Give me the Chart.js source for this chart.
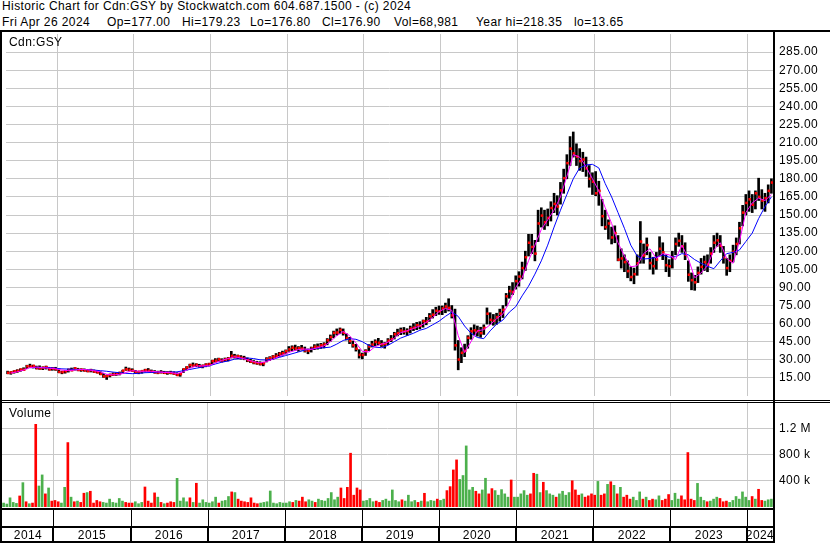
<!DOCTYPE html>
<html>
<head>
<meta charset="utf-8">
<script src="https://cdn.jsdelivr.net/npm/chart.js@4.4.1/dist/chart.umd.min.js"></script>
<style>
  body { margin: 0; background: #fff; }
  #wrap { position: relative; width: 830px; height: 543px; overflow: hidden; background: #fff;
          font-family: "Liberation Sans", Arial, sans-serif; }
  .txt { position: absolute; font-size: 12px; line-height: 12px; letter-spacing: 0.4px; color: #000; white-space: pre; }
  .ln { position: absolute; background: #000; }
  canvas { position: absolute; }
</style>
</head>
<body>
<div id="wrap">
  <div class="txt" style="left:2px;top:0px">Historic Chart for Cdn:GSY by Stockwatch.com 604.687.1500 - (c) 2024</div>
  <div class="txt" style="left:2px;top:16px">Fri Apr 26 2024</div>
  <div class="txt" style="left:107px;top:16px">Op=177.00</div>
  <div class="txt" style="left:182px;top:16px">Hi=179.23</div>
  <div class="txt" style="left:250px;top:16px">Lo=176.80</div>
  <div class="txt" style="left:322px;top:16px">Cl=176.90</div>
  <div class="txt" style="left:394px;top:16px">Vol=68,981</div>
  <div class="txt" style="left:476px;top:16px">Year hi=218.35</div>
  <div class="txt" style="left:574px;top:16px">lo=13.65</div>

  <canvas id="priceChart" width="828" height="370" style="left:2px;top:30px"></canvas>
  <canvas id="volChart" width="828" height="104" style="left:2px;top:403px"></canvas>

  <div class="txt" style="left:9px;top:36px">Cdn:GSY</div>
  <div class="txt" style="left:9px;top:407px">Volume</div>

  <div class="ln" style="left:0;top:30px;width:830px;height:2px"></div>
  <div class="ln" style="left:0;top:30px;width:2px;height:513px"></div>
  <div class="ln" style="left:773px;top:30px;width:2px;height:513px"></div>
  <div class="ln" style="left:0;top:400px;width:830px;height:1px"></div>
  <div class="ln" style="left:0;top:402px;width:830px;height:1px"></div>
  <div class="ln" style="left:0;top:508px;width:775px;height:2px"></div>
  <div class="ln" style="left:0;top:526px;width:775px;height:2px"></div>
  <div class="ln" style="left:0;top:541px;width:775px;height:2px"></div>
  <div id="dates"></div>
</div>
<script>
// semi-monthly bars, first half of May 2014 .. second half of Apr 2024
const hi = [
  20.6,20.2,21,21.8,22.6,23.4,25.5,26.4,25.6,24.8,25,24.2,24.8,23.8,23.6,23.8,
  21.8,20.6,21.2,22.4,23.2,23.6,23,22.6,22.5,22.1,22.2,21.6,21,20.2,18.6,17.4,18.2,19.2,19.1,19.8,21.4,24,23.2,22.6,
  21.2,20.6,21.1,22.2,22.8,21.6,21.1,20.6,21.1,20.5,20.2,20.6,20.1,19.3,18.8,22.6,24.4,26.4,27.4,26.8,26.3,25.7,26.8,27.2,
  29.5,31,31.4,30.9,31.5,32,37,34.6,34,33.5,33,31.6,30.4,29.4,28.8,28.4,28,31.8,32.6,33.6,35.2,36.2,37.2,38.2,
  41,41.6,42.2,41,42,40.6,39,40.6,42.6,43.2,43.6,44.2,47.6,50.6,53.8,55.6,56.4,55.6,51.6,48.6,45.6,42.8,38.4,35.6,
  38.4,42.6,45.4,46.6,47.8,46,44.4,47.6,50.2,52.8,55.4,56.4,56.8,55.8,58,60,61,61.6,63,65.2,68.4,71.6,73.6,74.6,
  74.6,77,80.6,75,72,46,40,43,50,56.6,59,58,57,59,73,69,67.6,68.6,72,75,85,91,94,99.6,
  103,111,120,134,134,129,154,156,154,155,161,168,166,177,188,200,215,218.8,209,205,202,198,191,185,
  186,178,163,154,146,140,141,133,122,117,112,107,106,117,144.6,126,131,119,115,119,132,127,117,113,
  120,131,135,133,127,112,102,100,107,114,116,117,123,133,135,133,124,114,117,125,131,144,158,167,
  170,167,170,180.5,171,168,175,180
];
const lo = [
  18.4,18,18.9,19.5,20.4,21,22.6,23.8,23.2,22.4,22,21.8,22.3,21.4,21.3,21.2,
  19.3,18.4,18.9,19.8,20.8,21.4,20.9,20.4,20.5,20,19.9,19.4,19,17.6,15.4,13.7,15.8,16.9,17,17.4,18.8,21.2,20.9,20.4,
  18.9,18.4,18.9,19.9,20.3,19.4,18.9,18.4,19,18.5,17.9,18.4,17.8,16.9,16.3,19.4,21.6,23.6,24.6,24.3,23.8,23.3,24.2,24.8,
  26.2,28,28.6,28.1,28.5,29,31.5,31.4,31,30.5,30,28.4,27.6,26.6,26.2,25.6,25,28.2,29.4,30.4,31.8,32.8,33.8,34.8,
  37,37.4,37.8,37,38,36.4,35,36.4,38.4,38.8,39.4,39.8,42.4,45.4,48.2,50.4,51.6,50.4,46.4,43.4,40.4,37.2,31.4,30.8,
  33.6,37.6,40.6,41.6,42.4,41,39.6,42.6,45,47.2,49.8,50.8,51.2,50.2,52.2,54.2,55,55.6,57,59,61.8,64.6,66.6,67.6,
  67.4,69,70.4,64.6,38,21.7,27.6,32.6,39.6,47,50.6,49.6,48.6,51,59.6,59.4,58.6,59.4,62,65,74.6,81,84,88.6,
  91,97,104,116,118,112,128,140,138,141,145,152,150,159,168,180,191,198,191,187,186,182,173,167,
  166,158,141,138,130,126,127,112,106,103,98,95.4,93,100,110,110,117,105,101,105,116,113,103,99,
  106,117,124,119,113,95,88,87.6,94,101,104,103,110,119,124,119,110,100,103,111,117,126,141,150,
  153,152,155,162,155,153,160,168
];
const cl = [
  19.2,19.6,20.4,20.8,21.9,21.8,24.6,24.4,24.9,23.1,22.8,23.4,23.9,22.1,22.8,22.2,
  19.9,19.8,20.5,21.6,21.4,22.9,21.6,21.8,21.2,20.7,21.4,20.2,19.6,18.3,16.3,16.6,17.5,17.8,18.4,19.1,21,22.1,21.7,21,
  19.6,20,20.6,21.4,20.9,20.1,19.6,19.4,19.7,19.2,19.4,19.1,18.5,17.4,18.2,22.1,23.7,25.6,25.2,25.8,24.6,25,25.9,26.4,
  28.9,29.2,30.4,29.1,30.3,31,33.2,32.6,32.9,31.7,31.2,29.6,28.5,27.8,27.2,26.6,27.1,30.6,31.4,32.6,33.2,35,35.4,37.1,
  38.6,40,39.3,39.6,39.2,37.8,37.6,39.4,40.8,40.5,42,42.7,46.2,48.8,52.3,52.6,54.8,52.4,48.1,45.6,42.1,39.2,34.1,34,
  37.2,41.1,42.6,44.8,44.1,42.9,43,45.8,47.1,51.2,52.1,54.2,53.5,53.8,55.9,56.6,58.7,58.2,62,61.7,66,67.4,70.6,70.2,
  72.5,74.1,73,66.8,42,30.2,35.8,37.4,48.2,53.6,54.4,53.8,52.1,56.4,68.2,63.1,62.4,65.4,68.3,71.4,82.6,86.9,86.2,95.2,
  99,106,115,127,123.5,118,143,149.5,144,147.6,155.8,159.2,157,170.4,180.5,193,205,201,198.4,194.6,196,188.5,180,177.6,
  168,170,149,140,143,131.4,135,113,114,111,103.5,98.6,101,110,128,116.5,125,110.2,107.6,113,122,119,108.4,107.5,
  115,126,128.6,124,117,100.5,96,94.2,102,107,111,109,118,127,129,124.4,115,106,112,119.6,126,139,152,160,
  163,158.5,168,165,162,164,170,176.9
];
// volume in thousands of shares
const vol = [
  60,45,140,70,55,168,371,80,50,60,1260,320,489,200,290,90,
  100,80,60,300,982,150,80,90,70,210,220,240,60,100,80,70,60,120,70,60,130,90,70,60,
  60,80,50,70,305,90,60,215,150,70,50,60,80,70,437,90,140,80,140,70,362,60,110,70,
  60,80,150,60,90,100,160,230,220,120,90,80,70,140,60,50,60,70,80,244,60,50,70,60,
  60,80,70,100,90,150,80,110,90,70,120,100,90,130,220,110,150,290,130,300,820,180,290,260,
  90,100,130,80,90,70,100,120,90,260,100,80,110,90,180,80,100,70,90,209,80,100,90,120,
  100,120,250,310,565,718,420,480,931,260,300,240,200,260,438,200,280,250,180,265,200,150,412,150,
  150,200,250,180,200,514,500,220,377,250,200,180,150,200,240,180,220,400,260,180,200,150,170,200,
  180,390,180,200,345,385,330,200,300,150,180,120,150,100,230,120,150,100,120,110,170,100,120,190,
  100,210,120,170,110,830,120,100,360,150,100,80,90,120,150,130,80,90,70,100,160,120,230,150,
  100,160,120,270,100,90,110,120
];
// monthly moving averages, May 2014 .. Apr 2024
const maShort = [
  19,20,21.5,23.5,24,23.5,23,22.6,21.5,21,21.5,22,
  21.8,21,20,18,17.5,17.8,19.5,21,20.5,20.5,20.5,20,
  19.5,19.5,18.5,20,23,24.8,25,25,27.5,29.6,31,32.5,
  31.5,30,28.5,27.5,28.5,30.5,33,35,37,38.5,39,38.5,
  40,41.5,45,50,53.5,50,44,37,36.5,41,43,44.5,
  48,52.5,54,56,58,61,65,70,72.5,71,50,36,
  45,54,55,59,64,68,78,90,98,112,125,138,
  146,154,165,182,200,198,190,180,170,156,143,127,
  116,107,108,118,122,114,118,117,113,125,114,98,
  102,108,121,127,114,110,128,152,160,164,162,167
];
const maLong = [
  null,null,null,23.5,23.5,23.5,23.5,23,22.5,22.3,22,22,
  21.8,21.5,21,20.5,19.8,19.3,18.8,18.5,18.8,19.3,19.5,19.8,
  19.8,19.8,20,21,22,23,24,25,26.5,28,29,30.5,
  31,31.5,31,30,29.8,30.5,32,33.5,35,36.5,38,39,
  39.5,40,40.5,43,46,47.5,47,45,42,40.5,40,42,
  45,48,50,52,54.5,56,59,62,66,69.5,66,58,
  52,48.5,47.5,54,59.5,63,69.5,74,83,91,101,112,
  125,140,154,167,180,189,191.5,192,189,176,165,152,
  139,125,116,113.5,114,115,117,115,115.5,118,117,113,
  110,107.5,105.5,112,118,119,121,128,135,147,157,165
];
const yearLabels = ['2014','2015','2016','2017','2018','2019','2020','2021','2022','2023','2024'];
const priceTickStep = 15;
const volTicks = [400, 800, 1200];
const volTickLabels = ['400 k', '800 k', '1.2 M'];
const barsFirstYear = 16, barsPerYear = 24;

const yearStarts = yearLabels.slice(1).map((y, k) => barsFirstYear + k * barsPerYear);
const nBars = hi.length;
const grid = '#c8c8c8';
const tickFont = { family: 'Liberation Sans, Arial, sans-serif', size: 12 };

const spacing = { id: 'spacing', beforeDraw(c) { c.ctx.letterSpacing = '0.4px'; } };

function xScale() {
  return {
    type: 'linear', min: 0, max: nBars, offset: false,
    afterBuildTicks: s => { s.ticks = yearStarts.map(v => ({ value: v })); },
    afterFit: s => { s.height = 0; },
    ticks: { display: false },
    grid: { color: grid, lineWidth: 1, drawTicks: false, offset: false },
    border: { display: false }
  };
}

const priceChart = new Chart(document.getElementById('priceChart'), {
  type: 'bar',
  data: {
    datasets: [
      { type: 'line', data: maShort.map((v, m) => ({ x: 2 * m + 1.5, y: v })),
        borderColor: '#ff00ff', borderWidth: 1, pointRadius: 0, tension: 0, order: 0 },
      { type: 'line', data: maLong.map((v, m) => ({ x: 2 * m + 1.5, y: v })),
        borderColor: '#0000ff', borderWidth: 1, pointRadius: 0, tension: 0, order: 1, spanGaps: false },
      { type: 'line', data: cl.map((c, i) => ({ x: i + 0.7, y: c })), showLine: false,
        pointStyle: 'rect', pointRadius: 1.8, pointBackgroundColor: '#ff0000', pointBorderWidth: 0, order: 2 },
      { type: 'bar', data: hi.map((h, i) => ({ x: i + 0.5, y: [lo[i], h] })),
        backgroundColor: '#000', barThickness: 2, grouped: false, order: 3 }
    ]
  },
  options: {
    responsive: false, animation: false, events: [], devicePixelRatio: 1,
    layout: { padding: 0 },
    plugins: { legend: { display: false }, tooltip: { enabled: false } },
    scales: {
      x: xScale(),
      y: {
        position: 'right', min: 0, max: 300,
        ticks: { stepSize: priceTickStep, padding: 6, color: '#000', font: tickFont,
                 callback: v => v.toFixed(2) },
        afterBuildTicks: s => { s.ticks = s.ticks.filter(t => t.value > 0 && t.value < 300); },
        afterFit: s => { s.width = 57; s.paddingTop = 0; s.paddingBottom = 0; },
        grid: { color: grid, drawTicks: false },
        border: { display: false }
      }
    }
  },
  plugins: [spacing]
});

const volChart = new Chart(document.getElementById('volChart'), {
  type: 'bar',
  data: {
    datasets: [{
      data: vol.map((v, i) => ({ x: i + 0.5, y: v })),
      backgroundColor: vol.map((v, i) => (i > 0 && cl[i] < cl[i - 1]) ? '#ff0000' : '#4cb04c'),
      barThickness: 2, grouped: false
    }]
  },
  options: {
    responsive: false, animation: false, events: [], devicePixelRatio: 1,
    layout: { padding: 0 },
    plugins: { legend: { display: false }, tooltip: { enabled: false } },
    scales: {
      x: xScale(),
      y: {
        position: 'right', min: 0, max: 1585,
        afterBuildTicks: s => { s.ticks = volTicks.map(v => ({ value: v })); },
        ticks: { padding: 6, color: '#000', font: tickFont,
                 callback: (v) => volTickLabels[volTicks.indexOf(v)] },
        afterFit: s => { s.width = 57; s.paddingTop = 0; s.paddingBottom = 0; },
        grid: { color: grid, drawTicks: false },
        border: { display: false }
      }
    }
  },
  plugins: [spacing]
});

// date strip under the volume panel
const xs = volChart.scales.x;
const off = 2;
const edges = [xs.left, ...yearStarts.map(v => xs.getPixelForValue(v)), xs.right].map(p => p + off);
const dates = document.getElementById('dates');
yearStarts.forEach(v => {
  const px = Math.round(xs.getPixelForValue(v) + off);
  dates.insertAdjacentHTML('beforeend',
    `<div class="ln" style="left:${px}px;top:510px;width:1px;height:16px"></div>` +
    `<div class="ln" style="left:${px - 1}px;top:528px;width:2px;height:13px"></div>`);
});
yearLabels.forEach((y, k) => {
  const c = (edges[k] + edges[k + 1]) / 2;
  dates.insertAdjacentHTML('beforeend',
    `<div class="txt" style="left:${Math.round(c - 40)}px;width:80px;text-align:center;top:529px">${y}</div>`);
});
</script>
</body>
</html>
